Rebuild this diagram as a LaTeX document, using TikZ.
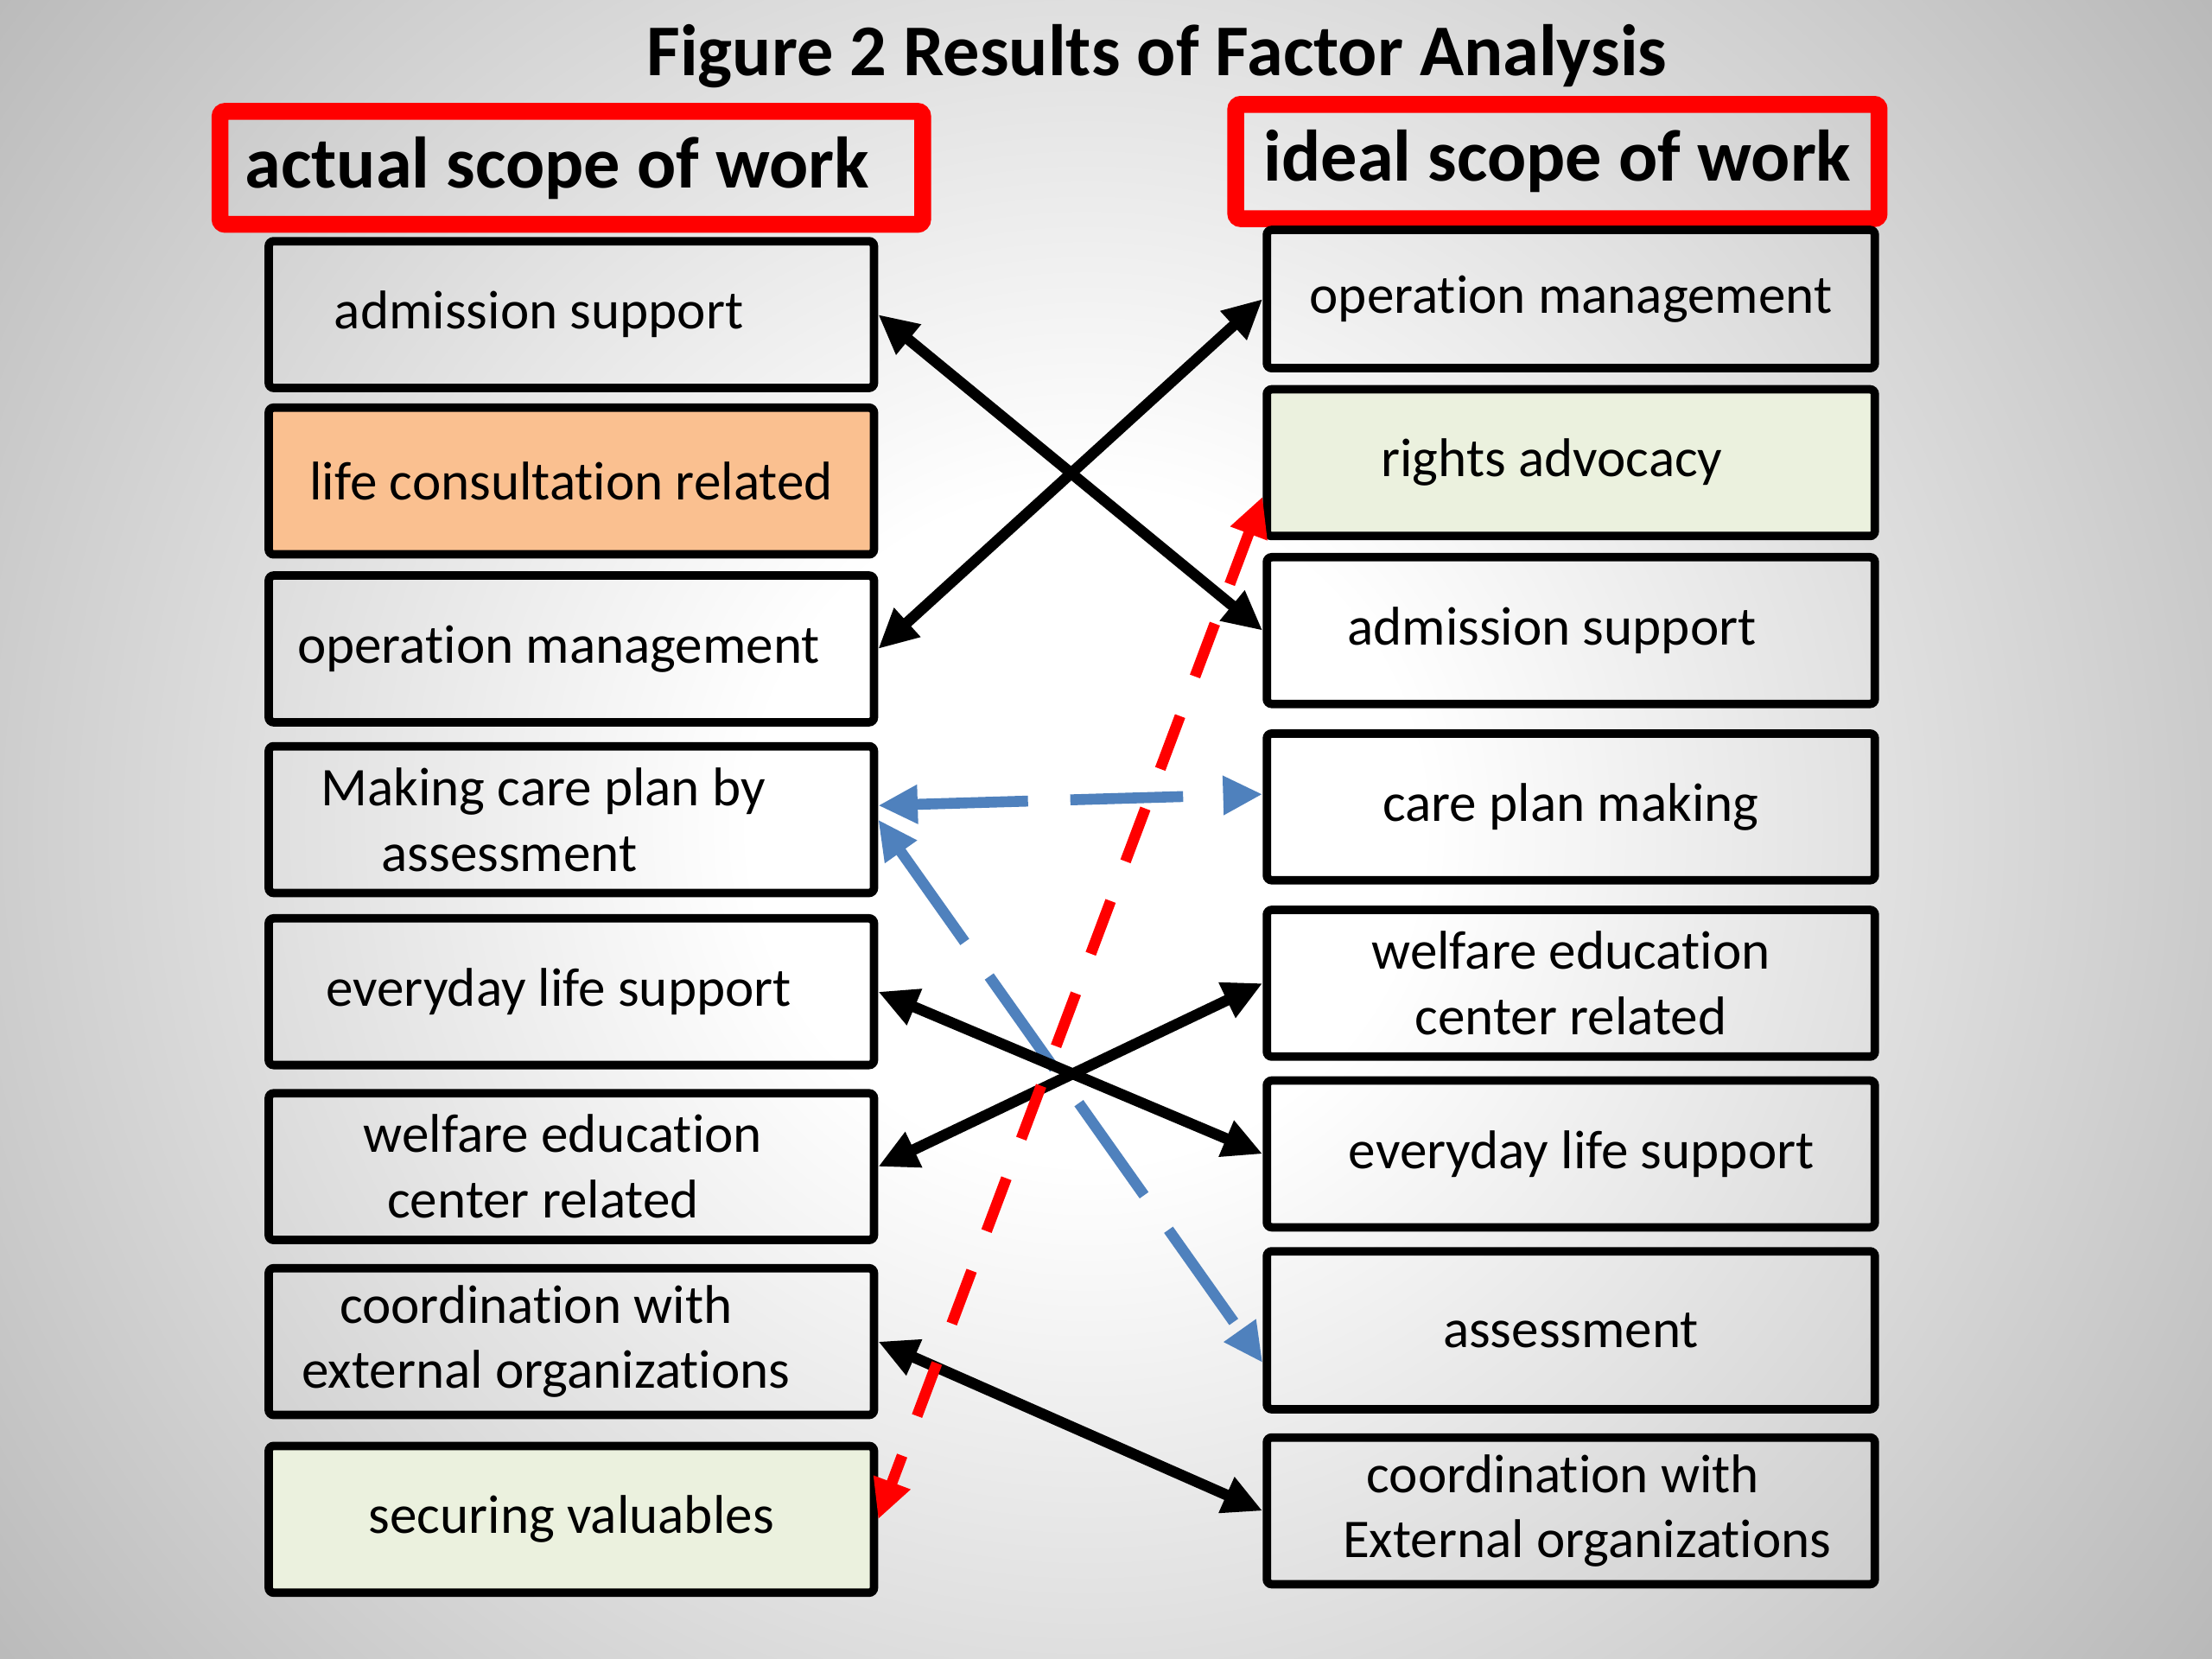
\documentclass[tikz,border=0pt]{standalone}
\usepackage{fontspec}
\setmainfont{Carlito}[RawFeature={-liga;-clig;-calt;-dlig}]
\usetikzlibrary{arrows.meta}

\definecolor{naranja}{HTML}{FAC090}
\definecolor{verdeclaro}{HTML}{EBF1DE}
\definecolor{azul}{HTML}{4F81BD}
\pgfdeclareradialshading{fondo}{\pgfpoint{0bp}{0bp}}{color(0bp)=(white); color(6bp)=(white); color(35bp)=(black!42); color(50bp)=(black!50)}

\tikzset{
  scopebox/.style={draw=black, line width=1.7pt, rounded corners=1pt, minimum width=4.29cm, minimum height=1.04cm, align=center, inner sep=2pt, font=\fontsize{11}{13.2}\selectfont},
  headbox/.style={draw=red, line width=3.4pt, rounded corners=1pt, font=\fontsize{14.7}{17}\selectfont\bfseries},
  link/.style={line width=2.2pt, {Triangle[length=0.28cm,width=0.26cm]}-{Triangle[length=0.28cm,width=0.26cm]}},
}

\begin{document}
\begin{tikzpicture}
      \useasboundingbox (0,0) rectangle (15.68,11.76);

      % Fondo degradado
      \begin{scope}
        \clip (0,0) rectangle (15.68,11.76);
        \shade[shading=fondo] (-2.2,-4.0) rectangle (17.6,15.8);
      \end{scope}

      % Titulo
      \node[font=\fontsize{14.7}{17}\selectfont\bfseries] (title) at (8.2,11.36) {Figure 2 Results of Factor Analysis};

      % Encabezados
      \node[headbox, minimum width=4.98cm, minimum height=0.80cm] (actual) at (4.05,10.57) {actual scope of work\hspace*{0.2cm}};
      \node[headbox, minimum width=4.56cm, minimum height=0.81cm] (ideal) at (11.04,10.615) {ideal scope of work};

      % Columna izquierda
      \node[scopebox] (a1) at (4.05,9.53) {admission support\hspace*{0.46cm}};
      \node[scopebox, fill=naranja] (a2) at (4.05,8.35) {life consultation related};
      \node[scopebox] (a3) at (4.05,7.16) {operation management\hspace*{0.18cm}};
      \node[scopebox] (a4) at (4.05,5.95) {Making care plan by\hspace*{0.4cm}\\assessment\hspace*{0.88cm}};
      \node[scopebox] (a5) at (4.05,4.73) {everyday life support\hspace*{0.18cm}};
      \node[scopebox] (a6) at (4.05,3.49) {welfare education\hspace*{0.12cm}\\center related\hspace*{0.4cm}};
      \node[scopebox] (a7) at (4.05,2.25) {coordination with\hspace*{0.5cm}\\external organizations\hspace*{0.36cm}};
      \node[scopebox, fill=verdeclaro] (a8) at (4.05,0.99) {securing valuables};

      % Columna derecha
      \node[scopebox, minimum width=4.31cm, minimum height=0.98cm] (i1) at (11.135,9.64) {operation management};
      \node[scopebox, minimum width=4.31cm, fill=verdeclaro] (i2) at (11.135,8.48) {rights advocacy\hspace*{0.27cm}};
      \node[scopebox, minimum width=4.31cm] (i3) at (11.135,7.29) {admission support\hspace*{0.27cm}};
      \node[scopebox, minimum width=4.31cm] (i4) at (11.135,6.04) {care plan making};
      \node[scopebox, minimum width=4.31cm] (i5) at (11.135,4.79) {welfare education\\center related};
      \node[scopebox, minimum width=4.31cm] (i6) at (11.135,3.58) {\hspace*{0.15cm}everyday life support};
      \node[scopebox, minimum width=4.31cm, minimum height=1.12cm] (i7) at (11.135,2.33) {assessment};
      \node[scopebox, minimum width=4.31cm] (i8) at (11.135,1.05) {coordination with\hspace*{0.11cm}\\\hspace*{0.23cm}External organizations};

      % Flechas azules punteadas
      \draw[link, azul, dash pattern=on 0.8cm off 0.3cm] ([yshift=0.10cm]a4.east) -- ([yshift=0.09cm]i4.west);
      \draw[link, azul, dash pattern=on 0.8cm off 0.3cm] (a4.east) -- ([yshift=-0.23cm]i7.west);

      % Flechas negras
      \draw[link] (a1.east) -- (i3.west);
      \draw[link] (i1.west) -- (a3.east);
      \draw[link] (a5.east) -- (i6.west);
      \draw[link] (i5.west) -- (a6.east);
      \draw[link] (a7.east) -- (i8.west);

      % Flecha roja punteada
      \draw[link, red, dash pattern=on 0.4cm off 0.3cm] ([yshift=-0.24cm]i2.west) -- (a8.east);

    \end{tikzpicture}
\end{document}
